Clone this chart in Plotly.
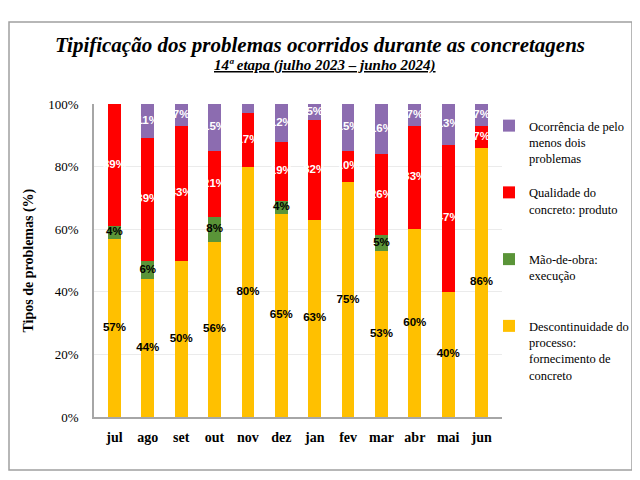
import plotly.graph_objects as go

months = ["jul", "ago", "set", "out", "nov", "dez", "jan", "fev", "mar", "abr", "mai", "jun"]
descontinuidade = [57, 44, 50, 56, 80, 65, 63, 75, 53, 60, 40, 86]
mao_de_obra = [4, 6, 0, 8, 0, 4, 0, 0, 5, 0, 0, 0]
qualidade = [39, 39, 43, 21, 17, 19, 32, 10, 26, 33, 47, 7]
ocorrencia = [0, 11, 7, 15, 3, 12, 5, 15, 16, 7, 13, 7]

series = [
    ("Descontinuidade do<br>processo:<br>fornecimento de<br>concreto", descontinuidade, "#FFC000", "black", 4),
    ("Mão-de-obra:<br>execução<br> ", mao_de_obra, "#5A9438", "black", 3),
    ("Qualidade do<br>concreto: produto<br> ", qualidade, "#FF0000", "white", 2),
    ("Ocorrência de pelo<br>menos dois<br>problemas", ocorrencia, "#8C6CB0", "white", 1),
]

fig = go.Figure()
base = [0] * len(months)
label_traces = []
for i, (name, vals, color, tcolor, rank) in enumerate(series):
    fig.add_trace(go.Bar(
        x=months, y=vals, name=name, legendgroup=f"g{i}", legendrank=rank,
        marker=dict(color=color, line=dict(width=0)),
        hoverinfo="skip",
    ))
    mids = [b + v / 2 for b, v in zip(base, vals)]
    label_traces.append(go.Scatter(
        x=months, y=mids, mode="text", showlegend=False, hoverinfo="skip",
        text=[f"{v}%" if v >= 4 else "" for v in vals],
        textposition="middle center",
        textfont=dict(family="Liberation Sans", size=11.5, color=tcolor, weight="bold"),
    ))
    base = [b + v for b, v in zip(base, vals)]
for t in label_traces:
    fig.add_trace(t)

# Page body has an 8px margin; figure is sized so that it fills the 640x480 window.
OFF = 8
FW, FH = 640 - OFF, 480 - OFF
L, T = 94 - OFF, 104 - OFF
R = FW - (502 - OFF)
B = FH - (417 - OFF)
W = FW - L - R
H = FH - T - B

def px_x(x):
    return (x - OFF - L) / W

def px_y(y):
    return (FH - B - (y - OFF)) / H

fig.update_layout(
    width=FW, height=FH, barmode="stack", bargap=0.62,
    margin=dict(l=L, r=R, t=T, b=B, autoexpand=False),
    paper_bgcolor="white", plot_bgcolor="white",
    font=dict(family="Liberation Serif, serif", color="black"),
    showlegend=True,
    legend=dict(
        x=px_x(489), y=px_y(111), xanchor="left", yanchor="top",
        traceorder="grouped", tracegroupgap=15, valign="top",
        font=dict(family="Liberation Serif, serif", size=12.5, color="black"),
        itemwidth=30, bgcolor="rgba(0,0,0,0)",
    ),
    xaxis=dict(
        showline=True, linecolor="#A6A6A6", linewidth=1.5,
        ticks="outside", ticklen=6, tickcolor="rgba(0,0,0,0)",
        tickfont=dict(family="Liberation Serif, serif", size=14, color="black", weight="bold"),
        fixedrange=True,
    ),
    yaxis=dict(
        range=[0, 100], dtick=20, ticksuffix="%",
        showline=True, linecolor="#A6A6A6", linewidth=1.5,
        showgrid=True, gridcolor="#EBEBEB",
        ticks="outside", ticklen=11, tickcolor="rgba(0,0,0,0)",
        tickfont=dict(family="Liberation Serif, serif", size=13, color="black"),
        zeroline=False, fixedrange=True,
    ),
    annotations=[
        dict(text="<b><i>Tipificação dos problemas ocorridos durante as concretagens</i></b>",
             x=px_x(320), y=px_y(45), xref="paper", yref="paper", showarrow=False,
             xanchor="center", yanchor="middle",
             font=dict(family="Liberation Serif, serif", size=21, color="black")),
        dict(text="<b><i><u>14ª etapa (julho 2023 – junho 2024)</u></i></b>",
             x=px_x(325), y=px_y(65), xref="paper", yref="paper", showarrow=False,
             xanchor="center", yanchor="middle",
             font=dict(family="Liberation Serif, serif", size=15, color="black")),
        dict(text="<b>Tipos de problemas (%)</b>", textangle=-90,
             x=px_x(28), y=0.5, xref="paper", yref="paper", showarrow=False,
             xanchor="center", yanchor="middle",
             font=dict(family="Liberation Serif, serif", size=14, color="black")),
    ],
    shapes=[
        dict(type="rect", xref="paper", yref="paper",
             x0=px_x(9), x1=px_x(632), y0=px_y(470), y1=px_y(22),
             line=dict(color="#A0A0A0", width=1.5), fillcolor="rgba(0,0,0,0)", layer="below"),
    ],
)

fig.write_html("out.html")
